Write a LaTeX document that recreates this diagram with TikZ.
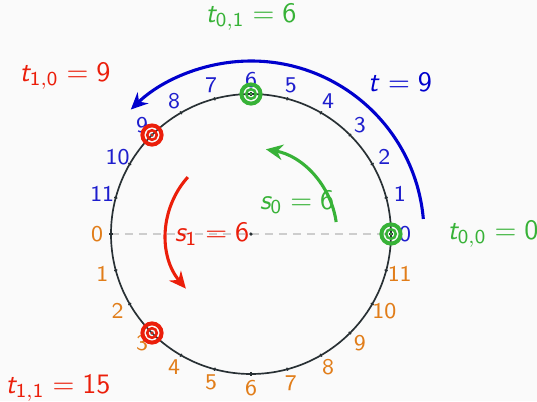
\documentclass[tikz,border=0pt]{standalone}
\usetikzlibrary{arrows.meta, positioning, calc}
\DeclareMathAlphabet{\mathsfit}{OT1}{cmss}{m}{sl}

\definecolor{cgreen}{RGB}{55,178,55}
\definecolor{cred}{RGB}{235,30,10}
\definecolor{carc}{RGB}{0,0,205}
\definecolor{cblue}{RGB}{30,30,205}
\definecolor{corange}{RGB}{225,125,25}
\definecolor{cwheel}{RGB}{40,48,52}
\definecolor{cdash}{RGB}{205,205,205}
\definecolor{cback}{RGB}{250,250,250}

\begin{document}
\begin{tikzpicture}[
    lbl/.style={font=\normalsize, inner sep=0pt},
    ticklbl/.style={font=\footnotesize, inner sep=0pt},
    ring/.style={circle, draw=#1, line width=1.4pt, minimum size=0.24cm, inner sep=0pt},
    inring/.style={circle, draw=#1, line width=0.9pt, minimum size=0.12cm, inner sep=0pt},
    move/.style={line width=1.1pt, -{Stealth[length=6pt, width=5.5pt]}}
]
\def\R{1.75}
\def\L{1.925}

% background and margins
\fill[cback] (-3.1375,-2.0875) rectangle (3.575,2.925);
\useasboundingbox (-3.1375,-2.0875) rectangle (3.575,2.925);

% horizontal diameter
\coordinate (west) at (180:\R);
\coordinate (east) at (0:\R);
\coordinate (c) at (0,0);
\draw[cdash, line width=0.6pt, dash pattern=on 0.1cm off 0.075cm] (west) -- (east);

% wheel with ticks
\draw[cwheel, line width=0.6pt] (c) circle (\R);
\foreach \k in {0,...,23} {
    \draw[cwheel, line width=0.5pt] (\k*15:\R-0.02) -- (\k*15:\R+0.02);
}
\fill[cwheel] (c) circle (0.022);

% positions, upper half
\foreach \k in {0,...,11} {
    \node[ticklbl, text=cblue] (b\k) at (\k*15:\L) {\textsf{\k}};
}
% positions, lower half
\foreach \k in {0,...,11} {
    \node[ticklbl, text=corange] (o\k) at (180+\k*15:\L) {\textsf{\k}};
}

% moves
\draw[move, carc] (5:2.1625) arc[start angle=5, end angle=134, radius=2.1625];
\draw[move, cgreen] (8:1.075) arc[start angle=8, end angle=80, radius=1.075];
\draw[move, cred] (138:1.0625) arc[start angle=138, end angle=220, radius=1.0625];

% targets
\node[ring=cgreen] (g00) at (0:\R) {};
\node[inring=cgreen] at (g00) {};
\fill[cgreen] (g00) circle (0.018);
\node[ring=cgreen] (g01) at (90:\R) {};
\node[inring=cgreen] at (g01) {};
\fill[cgreen] (g01) circle (0.018);
\node[ring=cred] (r10) at (135:\R) {};
\node[inring=cred] at (r10) {};
\fill[cred] (r10) circle (0.018);
\node[ring=cred] (r11) at (225:\R) {};
\node[inring=cred] at (r11) {};
\fill[cred] (r11) circle (0.018);

% labels
\node[lbl, text=cgreen] (t01) at (0,2.7125) {$\mathsfit{t}_{\mathsf{0,1}} = \mathsf{6}$};
\node[lbl, text=cred] (t10) at (-2.325,1.975) {$\mathsfit{t}_{\mathsf{1,0}} = \mathsf{9}$};
\node[lbl, text=carc] (tt) at (1.8625,1.9) {$\mathsfit{t} = \mathsf{9}$};
\node[lbl, text=cgreen] (t00) at (3.025,0) {$\mathsfit{t}_{\mathsf{0,0}} = \mathsf{0}$};
\node[lbl, text=cred] (t11) at (-2.4125,-1.925) {$\mathsfit{t}_{\mathsf{1,1}} = \mathsf{15}$};
\node[lbl, text=cgreen] (s0) at (0.575,0.4) {$\mathsfit{s}_{\mathsf{0}} = \mathsf{6}$};
\node[lbl, text=cred] (s1) at (-0.4875,0) {$\mathsfit{s}_{\mathsf{1}} = \mathsf{6}$};

\end{tikzpicture}
\end{document}
